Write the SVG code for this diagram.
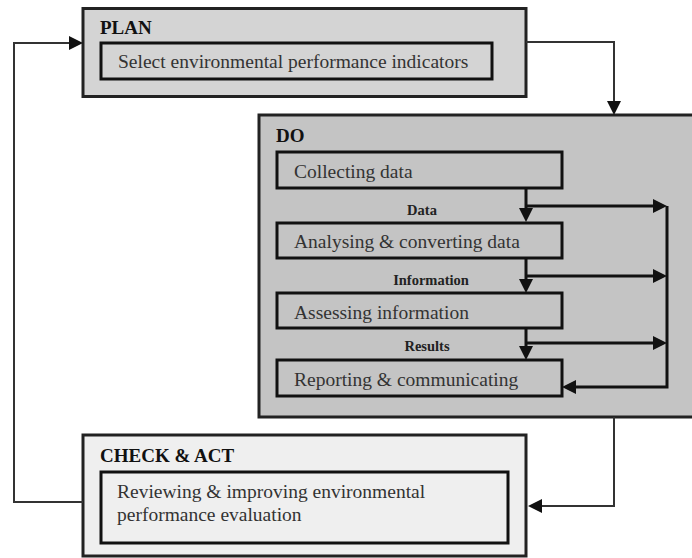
<svg xmlns="http://www.w3.org/2000/svg" width="692" height="558" viewBox="0 0 692 558">
<style>
.outer{stroke:#222;stroke-width:3}
.inner{stroke:#111;stroke-width:3}
.title{font-family:"Liberation Serif","Times New Roman",serif;font-weight:bold;font-size:19px;fill:#111}
.txt{font-family:"Liberation Serif","Times New Roman",serif;font-size:19.5px;fill:#333}
.lbl{font-family:"Liberation Serif","Times New Roman",serif;font-weight:bold;font-size:14.5px;fill:#222;text-anchor:middle}
.thin{fill:none;stroke:#333;stroke-width:2}
.thick{fill:none;stroke:#111;stroke-width:3}
</style>
<defs>
<marker id="ah" viewBox="0 0 14 14" refX="10" refY="7" markerWidth="14" markerHeight="14" markerUnits="userSpaceOnUse" orient="auto">
<path d="M0,0 L14,7 L0,14 z" fill="#111"/>
</marker>
</defs>
<rect width="692" height="558" fill="#fff"/>
<g id="plan">
<rect class="outer" x="83" y="8.5" width="443" height="88" fill="#d4d4d4"/>
<text class="title" x="100" y="34">PLAN</text>
<rect class="inner" x="101" y="43" width="391" height="36" fill="#d4d4d4"/>
<text class="txt" x="118" y="68">Select environmental performance indicators</text>
</g>
<g id="do">
<rect class="outer" x="259" y="115" width="450" height="302" fill="#c4c4c4"/>
<text class="title" x="276" y="142">DO</text>
</g>
<g id="collecting">
<rect class="inner" x="277" y="152" width="285" height="36" fill="#c4c4c4"/>
<text class="txt" x="294" y="178">Collecting data</text>
</g>
<g id="analysing">
<rect class="inner" x="277" y="223" width="285" height="35" fill="#c4c4c4"/>
<text class="txt" x="294" y="248">Analysing &amp; converting data</text>
</g>
<g id="assessing">
<rect class="inner" x="277" y="293" width="285" height="35" fill="#c4c4c4"/>
<text class="txt" x="294" y="319">Assessing information</text>
</g>
<g id="reporting">
<rect class="inner" x="277" y="360" width="285" height="36" fill="#c4c4c4"/>
<text class="txt" x="294" y="386">Reporting &amp; communicating</text>
</g>
<g id="check">
<rect class="outer" x="83" y="435" width="443" height="121" fill="#efefef"/>
<text class="title" x="100" y="462">CHECK &amp; ACT</text>
<rect class="inner" x="101" y="472" width="407" height="71" fill="#efefef"/>
<text class="txt" x="117" y="498">Reviewing &amp; improving environmental</text>
<text class="txt" x="117" y="521">performance evaluation</text>
</g>
<g id="connectors">
<path class="thin" d="M526,42 H614 V111" marker-end="url(#ah)"/>
<path class="thin" d="M614,417 V506 H532" marker-end="url(#ah)"/>
<path class="thin" d="M83,502 H14 V43 H79" marker-end="url(#ah)"/>
<path class="thick" d="M526,188 V218" marker-end="url(#ah)"/>
<path class="thick" d="M526,206 H663" marker-end="url(#ah)"/>
<path class="thick" d="M526,258 V289" marker-end="url(#ah)"/>
<path class="thick" d="M526,276 H663" marker-end="url(#ah)"/>
<path class="thick" d="M526,328 V356" marker-end="url(#ah)"/>
<path class="thick" d="M526,343 H663" marker-end="url(#ah)"/>
<path class="thick" d="M667,206 V387 H566" marker-end="url(#ah)"/>
<text class="lbl" x="422" y="215">Data</text>
<text class="lbl" x="431" y="285">Information</text>
<text class="lbl" x="427" y="351">Results</text>
</g>
</svg>
